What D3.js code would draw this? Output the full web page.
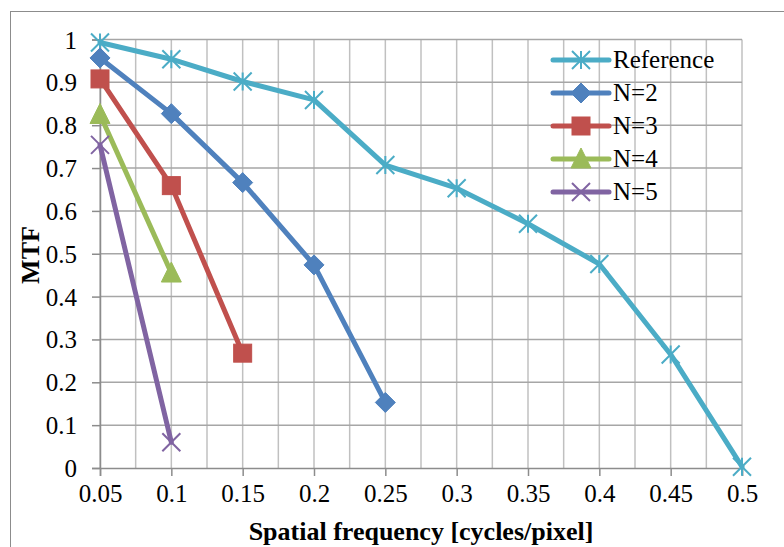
<!DOCTYPE html>
<html>
<head>
<meta charset="utf-8">
<script src="https://cdn.jsdelivr.net/npm/d3@7"></script>
</head>
<body style="margin:0">
<script>
var svgWidth = 784;
var svgHeight = 547;
var fontFamily = "Liberation Serif";

var margin = { top: 39.5, right: 42, bottom: 79, left: 100 };
var width = svgWidth - margin.left - margin.right;
var height = svgHeight - margin.top - margin.bottom;

// data
var freqs = [0.05, 0.1, 0.15, 0.2, 0.25, 0.3, 0.35, 0.4, 0.45, 0.5];
var xTicks = [0.05, 0.1, 0.15, 0.2, 0.25, 0.3, 0.35, 0.4, 0.45, 0.5];
var yTicks = [0, 0.1, 0.2, 0.3, 0.4, 0.5, 0.6, 0.7, 0.8, 0.9, 1];

var refValues = [0.993, 0.954, 0.902, 0.859, 0.707, 0.653, 0.570, 0.476, 0.265, 0.003];
var n2Values = [0.957, 0.827, 0.666, 0.474, 0.153];
var n3Values = [0.908, 0.659, 0.268];
var n4Values = [0.825, 0.455];
var n5Values = [0.754, 0.060];

var seriesNames = ["Reference", "N=2", "N=3", "N=4", "N=5"];
var seriesColors = ["#4BACC6", "#4F81BD", "#C0504D", "#9BBB59", "#8064A2"];
var seriesMarkers = ["star", "diamond", "square", "triangle", "x"];

var series = [refValues, n2Values, n3Values, n4Values, n5Values].map(function(vals, i) {
  return {
    name: seriesNames[i],
    color: seriesColors[i],
    marker: seriesMarkers[i],
    points: vals.map(function(v, j) { return { x: freqs[j], y: v }; })
  };
});

var svg = d3.select("body")
  .append("svg")
  .attr("width", svgWidth)
  .attr("height", svgHeight)
  .style("display", "block");

// outer chart border (runs off the picture on the right and bottom)
svg.append("rect")
  .attr("x", 10.5)
  .attr("y", 11.5)
  .attr("width", 800)
  .attr("height", 600)
  .attr("fill", "none")
  .attr("stroke", "#8c8c8c")
  .attr("stroke-width", 1);

var chartGroup = svg.append("g")
  .attr("transform", `translate(${margin.left}, ${margin.top})`);

var xScale = d3.scaleLinear().domain([0.05, 0.5]).range([0, width]);
var yScale = d3.scaleLinear().domain([0, 1]).range([height, 0]);

// vertical grid, every 0.025
var xGrid = d3.range(0, 19).map(function(i) { return 0.05 + i * 0.025; });
chartGroup.append("g")
  .selectAll("line")
  .data(xGrid)
  .enter()
  .append("line")
  .attr("x1", d => xScale(d))
  .attr("x2", d => xScale(d))
  .attr("y1", 0)
  .attr("y2", height)
  .attr("stroke", "#c0c0c0")
  .attr("stroke-width", 1.5);

// horizontal grid
chartGroup.append("g")
  .selectAll("line")
  .data(yTicks.slice(1))
  .enter()
  .append("line")
  .attr("x1", 0)
  .attr("x2", width)
  .attr("y1", d => yScale(d))
  .attr("y2", d => yScale(d))
  .attr("stroke", "#a6a6a6")
  .attr("stroke-width", 1.5);

// axes
var bottomAxis = d3.axisBottom(xScale)
  .tickValues(xTicks)
  .tickSize(8)
  .tickPadding(8)
  .tickFormat(d3.format("~g"));
var leftAxis = d3.axisLeft(yScale)
  .tickValues(yTicks)
  .tickSize(8)
  .tickPadding(15)
  .tickFormat(d3.format("~g"));

var xAxis = chartGroup.append("g")
  .attr("transform", `translate(0, ${height})`)
  .call(bottomAxis);
var yAxis = chartGroup.append("g")
  .call(leftAxis);

[xAxis, yAxis].forEach(function(ax) {
  ax.attr("font-family", fontFamily).attr("font-size", 25);
  ax.select(".domain").attr("stroke", "#8c8c8c").attr("stroke-width", 1.5);
  ax.selectAll(".tick line").attr("stroke", "#8c8c8c").attr("stroke-width", 1.5);
  ax.selectAll(".tick text")
    .attr("fill", "#000")
    .style("font-family", '"Liberation Serif"')
    .style("font-size", "25px");
});
yAxis.selectAll(".tick text").attr("dy", "0.34em");
xAxis.selectAll(".tick text").attr("dy", "0.72em");

// lines
var line = d3.line()
  .x(d => xScale(d.x))
  .y(d => yScale(d.y));

var seriesGroups = chartGroup.append("g")
  .selectAll("g")
  .data(series)
  .enter()
  .append("g");

seriesGroups.append("path")
  .attr("d", d => line(d.points))
  .attr("fill", "none")
  .attr("stroke", d => d.color)
  .attr("stroke-width", 5)
  .attr("stroke-linejoin", "round")
  .attr("stroke-linecap", "round");

function drawMarker(g, type, color, cx, cy) {
  var s = 9;
  if (type === "star") {
    var p = d3.path();
    p.moveTo(cx - s, cy - s); p.lineTo(cx + s, cy + s);
    p.moveTo(cx - s, cy + s); p.lineTo(cx + s, cy - s);
    p.moveTo(cx, cy - s); p.lineTo(cx, cy + s);
    g.append("path").attr("d", p.toString())
      .attr("stroke", color).attr("stroke-width", 2).attr("fill", "none");
  } else if (type === "x") {
    var q = d3.path();
    q.moveTo(cx - s, cy - s); q.lineTo(cx + s, cy + s);
    q.moveTo(cx - s, cy + s); q.lineTo(cx + s, cy - s);
    g.append("path").attr("d", q.toString())
      .attr("stroke", color).attr("stroke-width", 2).attr("fill", "none");
  } else if (type === "diamond") {
    g.append("path")
      .attr("d", `M${cx},${cy - s - 1}L${cx + s + 1},${cy}L${cx},${cy + s + 1}L${cx - s - 1},${cy}Z`)
      .attr("fill", color).attr("stroke", color).attr("stroke-width", 1);
  } else if (type === "square") {
    g.append("rect")
      .attr("x", cx - s).attr("y", cy - s)
      .attr("width", 2 * s).attr("height", 2 * s)
      .attr("fill", color).attr("stroke", color).attr("stroke-width", 1);
  } else if (type === "triangle") {
    g.append("path")
      .attr("d", `M${cx},${cy - s - 2}L${cx + s + 1},${cy + s}L${cx - s - 1},${cy + s}Z`)
      .attr("fill", color).attr("stroke", color).attr("stroke-width", 1);
  }
}

seriesGroups.each(function(d) {
  var g = d3.select(this);
  d.points.forEach(function(p) {
    drawMarker(g, d.marker, d.color, xScale(p.x), yScale(p.y));
  });
});

// legend
var legend = svg.append("g")
  .attr("transform", "translate(553, 60)");

var legendItems = legend.selectAll("g")
  .data(series)
  .enter()
  .append("g")
  .attr("transform", (d, i) => `translate(0, ${i * 33})`);

legendItems.append("line")
  .attr("x1", 0)
  .attr("x2", 56)
  .attr("y1", 0)
  .attr("y2", 0)
  .attr("stroke", d => d.color)
  .attr("stroke-width", 5)
  .attr("stroke-linecap", "round");

legendItems.each(function(d) {
  drawMarker(d3.select(this), d.marker, d.color, 28, 0);
});

legendItems.append("text")
  .attr("x", 60)
  .attr("y", 0)
  .attr("dy", "0.33em")
  .attr("font-size", 25)
  .style("font-family", '"Liberation Serif"')
  .text(d => d.name);

// axis titles
svg.append("text")
  .attr("x", margin.left + width / 2)
  .attr("y", 540)
  .attr("text-anchor", "middle")
  .attr("font-size", 26)
  .attr("font-weight", "bold")
  .style("font-family", '"Liberation Serif"')
  .text("Spatial frequency [cycles/pixel]");

svg.append("text")
  .attr("transform", "translate(39, 255) rotate(-90)")
  .attr("text-anchor", "middle")
  .attr("font-size", 26)
  .attr("font-weight", "bold")
  .style("font-family", '"Liberation Serif"')
  .text("MTF");
</script>
</body>
</html>
